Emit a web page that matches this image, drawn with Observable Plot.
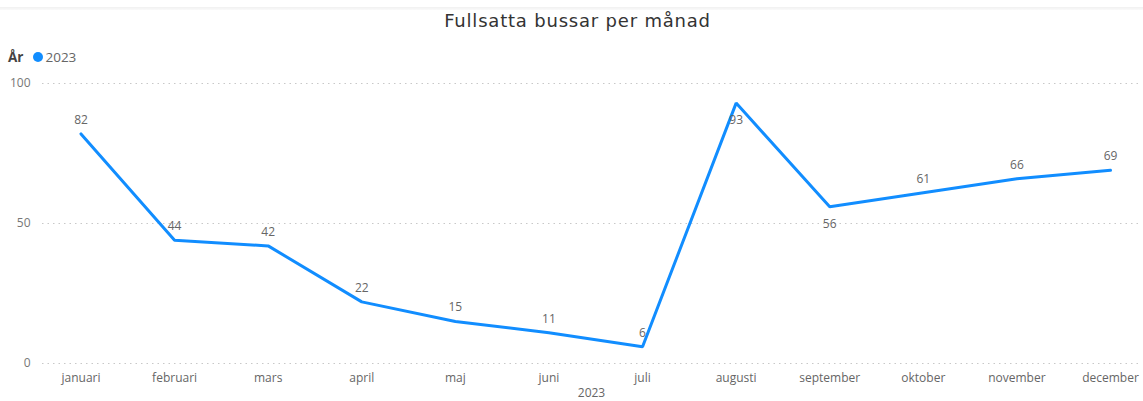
<!DOCTYPE html>
<html>
<head>
<meta charset="utf-8">
<script src="https://cdn.jsdelivr.net/npm/d3@7"></script>
<script src="https://cdn.jsdelivr.net/npm/@observablehq/plot@0.6"></script>
<style>
  html, body { margin: 0; padding: 0; background: #fff; }
  body { width: 1143px; height: 401px; overflow: hidden; position: relative; font-family: "Open Sans", sans-serif; }
  #topline { position: absolute; left: 0; top: 7px; width: 1143px; height: 3px; background: linear-gradient(#f0f0f0, #fafafa); }
  #title { height: 40px; line-height: 42px; text-align: center; font-family: "DejaVu Sans", sans-serif; font-size: 18px; color: #333; letter-spacing: 0.8px; padding-left: 12px; }
  #legend { height: 30px; font-size: 13.5px; color: #666; padding-left: 8px; display: flex; align-items: center; padding-top: 3px; box-sizing: border-box; }
  #legend b { color: #444; font-weight: 700; margin-right: 10px; }
  #legend .dot { display: inline-block; width: 10px; height: 10px; border-radius: 50%; background: #118DFF; margin-right: 2px; }
</style>
</head>
<body>
<div id="topline"></div>
<div id="title">Fullsatta bussar per månad</div>
<div id="legend"><b>År</b><span class="dot"></span><span>2023</span></div>
<div id="chart"></div>
<script>
const months = ["januari","februari","mars","april","maj","juni","juli","augusti","september","oktober","november","december"];
const values = [82, 44, 42, 22, 15, 11, 6, 93, 56, 61, 66, 69];
const yTicks = [0, 50, 100];
const xLabel = "2023";
const labelsBelow = ["augusti", "september"];

const data = months.map((m, i) => ({month: m, value: values[i]}));
const above = data.filter(d => !labelsBelow.includes(d.month));
const below = data.filter(d => labelsBelow.includes(d.month));

const chart = Plot.plot({
  width: 1143,
  height: 331,
  marginLeft: 42,
  marginRight: 3,
  marginTop: 13,
  marginBottom: 38,
  style: {fontFamily: "'Open Sans', sans-serif", fontSize: "12px", color: "#666", background: "transparent", overflow: "visible"},
  x: {type: "point", domain: months, padding: 0.366, align: 0.562, round: false, label: null},
  y: {domain: [0, 100], ticks: yTicks, label: null},
  marks: [
    Plot.gridY(yTicks, {stroke: "#c8c8c8", strokeOpacity: 1, strokeDasharray: "1.5,4"}),
    Plot.axisY({ticks: yTicks, tickSize: 0, tickPadding: 12, label: null, fill: "#777"}),
    Plot.axisX({tickSize: 0, tickPadding: 10, fill: "#666", label: xLabel, labelAnchor: "center", labelArrow: "none", labelOffset: 33}),
    Plot.line(data, {x: "month", y: "value", stroke: "#118DFF", strokeWidth: 3, strokeLinejoin: "miter"}),
    Plot.text(above, {x: "month", y: "value", text: d => String(d.value), dy: -14, fill: "#666", fontSize: 12}),
    Plot.text(below, {x: "month", y: "value", text: d => String(d.value), dy: 17, fill: "#666", fontSize: 12})
  ]
});
document.getElementById("chart").appendChild(chart);
</script>
</body>
</html>
